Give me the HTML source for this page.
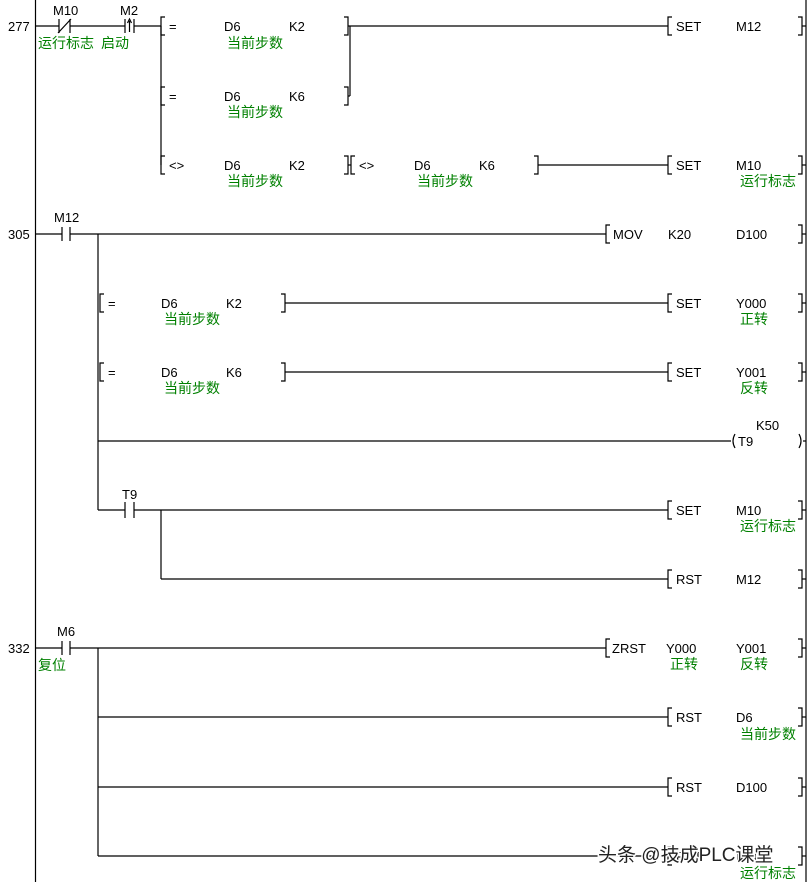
<!DOCTYPE html>
<html><head><meta charset="utf-8"><style>
html,body{margin:0;padding:0;background:#fff;}
svg{display:block}
text{font-family:"Liberation Sans","Noto Sans CJK SC",sans-serif;font-size:13px;fill:#000}
.g{fill:#008000;font-size:14px}
</style></head><body>
<svg width="809" height="882" viewBox="0 0 809 882" xmlns="http://www.w3.org/2000/svg">
<g stroke="#000" stroke-width="1.2" fill="none">
<!-- rails -->
<line x1="35.5" y1="0" x2="35.5" y2="882"/>
<line x1="806" y1="0" x2="806" y2="882"/>

<!-- 277 -->
<line x1="35" y1="26" x2="59" y2="26"/><line x1="59" y1="19" x2="59" y2="33"/><line x1="70" y1="19" x2="70" y2="33"/><line x1="58" y1="33" x2="71" y2="19"/>
<line x1="70" y1="26" x2="125" y2="26"/><line x1="125" y1="19" x2="125" y2="33"/><line x1="134" y1="19" x2="134" y2="33"/><line x1="129.5" y1="32" x2="129.5" y2="21"/>
<path d="M127.5 23 L129.5 19 L131.5 23"/>
<line x1="134" y1="26" x2="161" y2="26"/>
<line x1="161" y1="26" x2="161" y2="165"/>
<path d="M165 17H161V35H165"/><path d="M344 17H348V35H344"/><line x1="348" y1="26" x2="668" y2="26"/>
<line x1="350" y1="26" x2="350" y2="96"/>
<path d="M165 87H161V105H165"/><path d="M344 87H348V105H344"/><line x1="348" y1="96" x2="350" y2="96"/>
<path d="M165 156H161V174H165"/><path d="M344 156H348V174H344"/><line x1="348" y1="165" x2="351" y2="165"/>
<path d="M355 156H351V174H355"/><path d="M534 156H538V174H534"/><line x1="538" y1="165" x2="668" y2="165"/>
<path d="M672 17H668V35H672"/><path d="M798 17H802V35H798"/><line x1="802" y1="26" x2="806" y2="26"/>
<path d="M672 156H668V174H672"/><path d="M798 156H802V174H798"/><line x1="802" y1="165" x2="806" y2="165"/>

<!-- 305 -->
<line x1="35" y1="234" x2="62" y2="234"/><line x1="62" y1="227" x2="62" y2="241"/><line x1="70" y1="227" x2="70" y2="241"/>
<line x1="70" y1="234" x2="606" y2="234"/>
<path d="M610 225H606V243H610"/><path d="M798 225H802V243H798"/><line x1="802" y1="234" x2="806" y2="234"/>
<line x1="98" y1="234" x2="98" y2="510"/>
<path d="M104 294H100V312H104"/><path d="M281 294H285V312H281"/><line x1="285" y1="303" x2="668" y2="303"/>
<path d="M672 294H668V312H672"/><path d="M798 294H802V312H798"/><line x1="802" y1="303" x2="806" y2="303"/>
<path d="M104 363H100V381H104"/><path d="M281 363H285V381H281"/><line x1="285" y1="372" x2="668" y2="372"/>
<path d="M672 363H668V381H672"/><path d="M798 363H802V381H798"/><line x1="802" y1="372" x2="806" y2="372"/>
<line x1="98" y1="441" x2="731" y2="441"/>
<path d="M735 434 Q731 441 735 448"/><path d="M799 434 Q803 441 799 448"/><line x1="803" y1="441" x2="806" y2="441"/>
<line x1="98" y1="510" x2="125" y2="510"/><line x1="125" y1="502" x2="125" y2="518"/><line x1="134" y1="502" x2="134" y2="518"/>
<line x1="134" y1="510" x2="668" y2="510"/>
<line x1="161" y1="510" x2="161" y2="579"/><line x1="161" y1="579" x2="668" y2="579"/>
<path d="M672 501H668V519H672"/><path d="M798 501H802V519H798"/><line x1="802" y1="510" x2="806" y2="510"/>
<path d="M672 570H668V588H672"/><path d="M798 570H802V588H798"/><line x1="802" y1="579" x2="806" y2="579"/>

<!-- 332 -->
<line x1="35" y1="648" x2="62" y2="648"/><line x1="62" y1="641" x2="62" y2="655"/><line x1="70" y1="641" x2="70" y2="655"/>
<line x1="70" y1="648" x2="606" y2="648"/>
<path d="M610 639H606V657H610"/><path d="M798 639H802V657H798"/><line x1="802" y1="648" x2="806" y2="648"/>
<line x1="98" y1="648" x2="98" y2="856"/>
<line x1="98" y1="717" x2="668" y2="717"/><path d="M672 708H668V726H672"/><path d="M798 708H802V726H798"/><line x1="802" y1="717" x2="806" y2="717"/>
<line x1="98" y1="787" x2="668" y2="787"/><path d="M672 778H668V796H672"/><path d="M798 778H802V796H798"/><line x1="802" y1="787" x2="806" y2="787"/>
<line x1="98" y1="856" x2="668" y2="856"/><path d="M672 847H668V865H672"/><path d="M798 847H802V865H798"/><line x1="802" y1="856" x2="806" y2="856"/>
</g>

<text x="8" y="31">277</text>
<text x="53" y="15">M10</text><text x="120" y="15">M2</text>
<text class="g" x="38" y="48">运行标志</text><text class="g" x="101" y="48">启动</text>
<text x="169" y="31">=</text><text x="224" y="31">D6</text><text x="289" y="31">K2</text><text class="g" x="227" y="48">当前步数</text>
<text x="169" y="101">=</text><text x="224" y="101">D6</text><text x="289" y="101">K6</text><text class="g" x="227" y="117">当前步数</text>
<text x="169" y="170">&lt;&gt;</text><text x="224" y="170">D6</text><text x="289" y="170">K2</text><text class="g" x="227" y="186">当前步数</text>
<text x="359" y="170">&lt;&gt;</text><text x="414" y="170">D6</text><text x="479" y="170">K6</text><text class="g" x="417" y="186">当前步数</text>
<text x="676" y="31">SET</text><text x="736" y="31">M12</text>
<text x="676" y="170">SET</text><text x="736" y="170">M10</text><text class="g" x="740" y="186">运行标志</text>

<text x="8" y="239">305</text><text x="54" y="222">M12</text>
<text x="613" y="239">MOV</text><text x="668" y="239">K20</text><text x="736" y="239">D100</text>
<text x="108" y="308">=</text><text x="161" y="308">D6</text><text x="226" y="308">K2</text><text class="g" x="164" y="324">当前步数</text>
<text x="676" y="308">SET</text><text x="736" y="308">Y000</text><text class="g" x="740" y="324">正转</text>
<text x="108" y="377">=</text><text x="161" y="377">D6</text><text x="226" y="377">K6</text><text class="g" x="164" y="393">当前步数</text>
<text x="676" y="377">SET</text><text x="736" y="377">Y001</text><text class="g" x="740" y="393">反转</text>
<text x="756" y="430">K50</text><text x="738" y="446">T9</text>
<text x="122" y="499">T9</text>
<text x="676" y="515">SET</text><text x="736" y="515">M10</text><text class="g" x="740" y="531">运行标志</text>
<text x="676" y="584">RST</text><text x="736" y="584">M12</text>

<text x="8" y="653">332</text><text x="57" y="636">M6</text><text class="g" x="38" y="670">复位</text>
<text x="612" y="653">ZRST</text><text x="666" y="653">Y000</text><text class="g" x="670" y="669">正转</text>
<text x="736" y="653">Y001</text><text class="g" x="740" y="669">反转</text>
<text x="676" y="722">RST</text><text x="736" y="722">D6</text><text class="g" x="740" y="739">当前步数</text>
<text x="676" y="792">RST</text><text x="736" y="792">D100</text>
<text x="676" y="861">RST</text><text x="736" y="861">M10</text><text class="g" x="740" y="878">运行标志</text>
<text x="598" y="861" style="font-size:19px;fill:#222;stroke:#fff;stroke-width:3;paint-order:stroke">头条 @技成PLC课堂</text>
</svg>
</body></html>
